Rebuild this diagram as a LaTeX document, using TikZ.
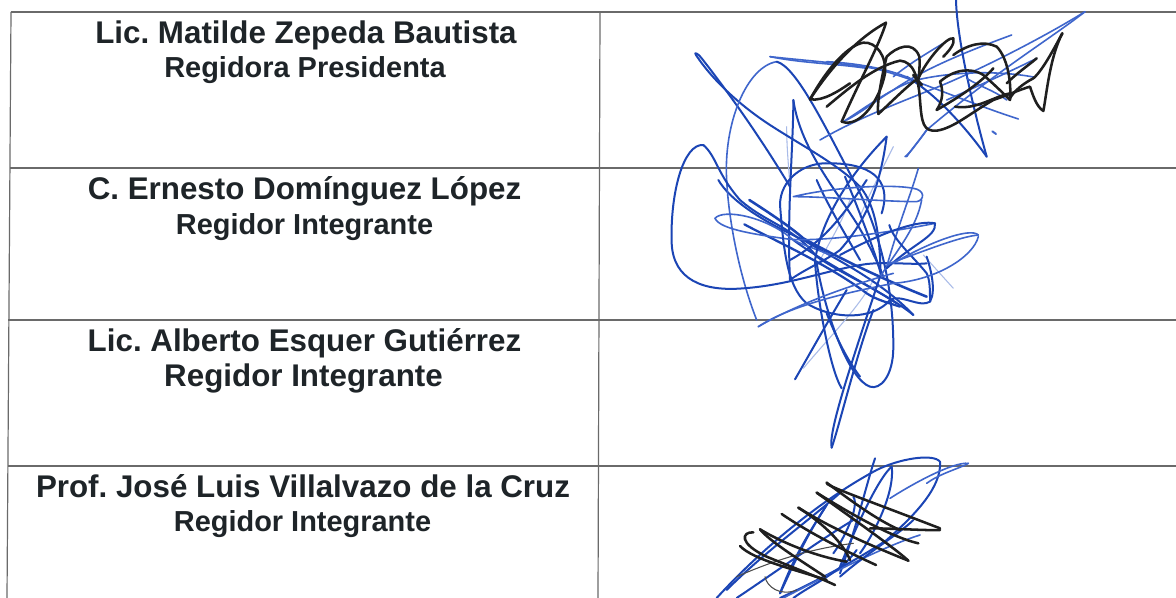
\documentclass[tikz,border=0pt]{standalone}
\usepackage{fontspec}
\setmainfont{Liberation Sans}
\definecolor{inkblue}{HTML}{1B45B5}
\definecolor{midblue}{HTML}{3F66CC}
\definecolor{paleblue}{HTML}{A9BBE8}
\definecolor{rulegray}{HTML}{6A6A6A}
\definecolor{textdark}{HTML}{1E2428}
\tikzset{
  persontext/.style={font=\bfseries\fontsize{23.5}{28}\selectfont\frenchspacing,text=textdark,anchor=center,inner sep=0pt},
  roletext/.style={font=\bfseries\fontsize{21.7}{26}\selectfont\frenchspacing,text=textdark,anchor=center,inner sep=0pt},
  rulel/.style={rulegray,line width=.9pt},
  penblue/.style={inkblue,line width=1.5pt,line cap=round,line join=round},
  thinblue/.style={midblue,line width=1.2pt,line cap=round,line join=round},
  pale/.style={paleblue,line width=.8pt,line cap=round},
  ink/.style={black!88,line width=1.9pt,line cap=round,line join=round},
  thinink/.style={black!70,line width=.8pt,line cap=round,line join=round},
  zoomone/.style={shift={(660,0)},x=0.25pt,y=-0.25pt},
  zoomtwo/.style={shift={(660,180)},x=0.25pt,y=-0.25pt},
  zoomthree/.style={shift={(700,440)},x=0.25pt,y=-0.25pt}
}
\begin{document}
\begin{tikzpicture}[x=0.75pt,y=-0.75pt]
\useasboundingbox (0,0) rectangle (1176,598);
\fill[white] (0,0) rectangle (1176,598);
\draw[rulel] (11,12) -- (1176,12);
\draw[rulel] (10,168) -- (1176,168);
\draw[rulel] (8,320) -- (1176,320);
\draw[rulel] (8,466) -- (1176,466);
\draw[rulel] (11,12) -- (7,598);
\draw[rulel] (600,12) -- (598,598);
\node[persontext] (n1) at (306,35) {Lic. Matilde Zepeda Bautista};
\node[roletext] (r1) at (305,70) {Regidora Presidenta};
\node[persontext] (n2) at (304.5,191) {C. Ernesto Domínguez López};
\node[roletext] (r2) at (304.5,227) {Regidor Integrante};
\node[persontext] (n3) at (304.5,343) {Lic. Alberto Esquer Gutiérrez};
\node[persontext] (r3) at (303.5,378) {Regidor Integrante};
\node[persontext] (n4) at (303,486) {Prof. José Luis Villalvazo de la Cruz};
\node[roletext] (r4) at (302.5,524) {Regidor Integrante};
% signature 2: blue scribble
\begin{scope}[zoomtwo]
\draw[pale] (430,565) .. controls (500,480) and (600,380) .. (640,300);
\draw[pale] (880,325) -- (790,225);
\draw[pale] (570,60) .. controls (540,140) and (500,200) .. (470,260);
\draw[pale] (700,-100) .. controls (660,-20) and (620,60) .. (600,110);
\draw[pale] (380,-160) .. controls (380,-100) and (385,-50) .. (390,20);
\draw[thinblue] (800,-150) .. controls (770,-110) and (750,-80) .. (735,-70);
% long arch
\draw[penblue] (108,-375) .. controls (100,-385) and (115,-380) .. (125,-365) .. controls (200,-270) and (300,-130) .. (390,20);
\draw[penblue] (108,-375) .. controls (150,-310) and (230,-230) .. (330,-165) .. controls (430,-100) and (530,-50) .. (600,20) .. controls (650,80) and (660,180) .. (662,290);
\draw[penblue] (175,0) .. controls (210,60) and (300,120) .. (430,180) .. controls (530,240) and (660,300) .. (760,405);
\draw[thinblue] (350,-355) .. controls (260,-340) and (190,-170) .. (200,0) .. controls (205,110) and (235,280) .. (290,420);
\draw[penblue] (350,-355) .. controls (410,-340) and (500,-150) .. (580,0) .. controls (650,130) and (700,300) .. (700,500) .. controls (700,590) and (660,630) .. (630,620) .. controls (570,600) and (500,420) .. (470,250);
% peak
\draw[penblue] (400,-240) .. controls (400,-100) and (380,100) .. (390,300);
\draw[penblue] (400,-240) .. controls (420,-100) and (520,20) .. (590,130) .. controls (620,180) and (650,240) .. (670,290);
% far-left loop
\draw[penblue] (130,-105) .. controls (70,-110) and (30,40) .. (35,190) .. controls (40,300) and (130,335) .. (250,325) .. controls (390,315) and (500,270) .. (620,252) .. controls (690,245) and (760,255) .. (800,250);
\draw[penblue] (130,-105) .. controls (170,-70) and (170,-20) .. (240,60) .. controls (320,130) and (400,140) .. (470,230) .. controls (560,290) and (680,340) .. (760,405);
% thick strokes through centre
\draw[penblue,line width=1.9pt] (268,60) .. controls (330,100) and (390,140) .. (430,175) .. controls (530,230) and (650,290) .. (800,350);
\draw[penblue,line width=1.7pt] (253,133) .. controls (320,170) and (500,250) .. (620,340) .. controls (650,360) and (690,370) .. (720,380);
\draw[penblue] (400,180) .. controls (480,240) and (600,300) .. (710,370);
% flat loop at left
\draw[thinblue] (165,115) .. controls (190,85) and (320,110) .. (400,180) .. controls (440,200) and (480,210) .. (520,230);
\draw[thinblue] (165,115) .. controls (180,150) and (300,165) .. (390,178) .. controls (500,185) and (700,155) .. (825,130);
% round circle
\draw[penblue] (360,75) .. controls (360,0) and (430,-55) .. (510,-50) .. controls (620,-50) and (700,-10) .. (665,100);
\draw[penblue] (360,75) .. controls (370,200) and (380,320) .. (440,370) .. controls (520,420) and (640,420) .. (690,360) .. controls (720,340) and (780,385) .. (810,365) .. controls (830,330) and (810,260) .. (800,230);
% star peak
\draw[penblue] (680,-130) .. controls (600,-50) and (490,90) .. (465,240) .. controls (470,350) and (510,570) .. (545,625);
\draw[penblue] (680,-130) .. controls (660,20) and (620,120) .. (540,210) .. controls (500,240) and (430,270) .. (390,300);
\draw[penblue] (555,-10) .. controls (600,100) and (640,200) .. (665,290);
\draw[penblue] (470,0) .. controls (500,70) and (560,170) .. (600,240);
\draw[penblue] (620,0) .. controls (560,90) and (500,180) .. (390,240);
% upper flat loop
\draw[thinblue] (400,50) .. controls (500,25) and (680,10) .. (760,25) .. controls (795,30) and (795,60) .. (770,65) .. controls (680,65) and (500,50) .. (400,50);
\draw[thinblue] (785,60) .. controls (770,140) and (720,200) .. (660,290);
\draw[thinblue] (775,-35) .. controls (750,50) and (720,120) .. (680,260);
\draw[penblue] (688,135) .. controls (700,180) and (760,230) .. (800,280) .. controls (810,300) and (810,330) .. (810,365);
\draw[penblue] (825,130) .. controls (780,120) and (680,150) .. (540,225);
\draw[penblue] (825,130) .. controls (830,170) and (760,190) .. (680,265);
% far right
\draw[thinblue] (955,165) .. controls (930,140) and (800,190) .. (700,250);
\draw[thinblue] (955,170) .. controls (940,230) and (830,300) .. (700,310) .. controls (600,330) and (400,370) .. (295,440);
\draw[thinblue] (955,165) .. controls (900,170) and (800,210) .. (690,250);
\draw[thinblue] (295,440) .. controls (380,390) and (520,330) .. (700,280);
% lower tails
\draw[penblue] (405,598) .. controls (450,520) and (500,430) .. (560,330);
\draw[penblue] (515,803) .. controls (505,760) and (560,590) .. (660,290);
\draw[penblue] (515,803) .. controls (540,730) and (590,520) .. (640,390);
\draw[penblue] (500,400) .. controls (540,500) and (570,550) .. (600,590);
\end{scope}
% signature 1: blue
\begin{scope}[zoomone]
\draw[thinblue] (330,170) .. controls (420,180) and (550,190) .. (640,205) .. controls (750,230) and (900,300) .. (1075,357);
\draw[thinblue] (330,170) .. controls (430,190) and (520,190) .. (620,205);
\draw[thinblue] (1275,35) .. controls (1170,100) and (1000,190) .. (860,250) .. controls (740,300) and (600,350) .. (480,420);
\draw[thinblue] (1275,35) .. controls (1180,110) and (1000,220) .. (800,390);
\draw[thinblue] (1055,105) .. controls (960,140) and (800,200) .. (700,270) .. controls (650,300) and (600,340) .. (560,360);
\draw[thinblue] (1125,232) .. controls (1040,215) and (900,210) .. (770,240) .. controls (700,260) and (620,320) .. (550,365);
\draw[penblue] (888,0) .. controls (890,100) and (930,290) .. (980,470);
\draw[penblue] (980,470) .. controls (930,400) and (840,290) .. (740,230);
\draw[thinblue] (500,185) .. controls (600,190) and (700,210) .. (760,240);
\draw[thinblue] (850,130) .. controls (800,160) and (750,190) .. (700,230);
\draw[thinblue] (1130,175) .. controls (1060,210) and (950,260) .. (860,300);
\draw[thinblue] (920,235) .. controls (960,260) and (1000,270) .. (1040,300);
\draw[thinblue] (800,390) .. controls (780,420) and (760,440) .. (740,470);
\draw[thinblue,line width=1.5pt] (997,394) -- (1008,402);
% signature 1: black
\draw[ink] (450,298) .. controls (520,190) and (600,110) .. (678,68);
\draw[ink] (678,68) .. controls (660,130) and (600,240) .. (545,365);
\draw[ink] (545,365) .. controls (600,385) and (660,300) .. (675,220) .. controls (680,170) and (650,125) .. (610,128) .. controls (570,135) and (510,190) .. (450,298);
\draw[ink] (450,298) .. controls (490,305) and (540,270) .. (570,250);
\draw[ink] (500,320) .. controls (560,270) and (640,200) .. (720,182) .. controls (760,185) and (775,230) .. (780,300) .. controls (785,370) and (790,395) .. (830,392) .. controls (880,385) and (930,340) .. (1000,300) .. controls (1030,290) and (1090,265) .. (1110,260) .. controls (1120,290) and (1130,320) .. (1150,333) .. controls (1160,280) and (1170,170) .. (1207,100);
\draw[ink] (1207,100) .. controls (1190,130) and (1150,210) .. (1120,235) .. controls (1090,250) and (1060,275) .. (1050,295);
\draw[ink] (655,342) .. controls (650,320) and (660,250) .. (680,170) .. controls (710,140) and (760,120) .. (778,170) .. controls (780,190) and (778,215) .. (775,240);
\draw[ink] (655,342) .. controls (700,300) and (750,250) .. (775,235) .. controls (800,180) and (860,110) .. (880,115) .. controls (885,130) and (870,150) .. (850,170);
\draw[ink] (830,330) .. controls (850,300) and (850,270) .. (840,245) .. controls (880,210) and (930,200) .. (970,225) .. controls (1010,260) and (1040,290) .. (1050,300) .. controls (1055,240) and (1040,170) .. (1010,140) .. controls (970,120) and (920,135) .. (880,165);
\draw[ink] (885,320) .. controls (950,330) and (1000,290) .. (1050,280);
\draw[ink] (830,330) .. controls (900,290) and (960,250) .. (1000,205);
\draw[ink] (1130,175) .. controls (1100,200) and (1070,220) .. (1040,250);
\draw[ink,line width=2.2pt] (760,225) -- (785,255);
\end{scope}
% signature 3: blue
\begin{scope}[zoomthree]
\draw[penblue] (50,474) .. controls (200,310) and (380,170) .. (530,90) .. controls (600,55) and (700,40) .. (720,65) .. controls (725,140) and (650,220) .. (560,300) .. controls (500,340) and (400,400) .. (240,474);
\draw[penblue] (525,55) .. controls (500,130) and (470,260) .. (420,400);
\draw[penblue] (575,80) .. controls (540,110) and (480,230) .. (420,380);
\draw[penblue] (575,80) .. controls (585,150) and (530,270) .. (480,340);
\draw[thinblue] (805,70) .. controls (760,65) and (640,130) .. (570,175);
\draw[thinblue] (805,70) .. controls (780,85) and (720,100) .. (680,130);
\draw[penblue] (460,170) .. controls (480,200) and (430,300) .. (400,340);
\draw[thinblue] (660,285) .. controls (580,310) and (450,370) .. (250,474);
\draw[penblue] (380,195) .. controls (340,260) and (290,330) .. (240,460);
\draw[penblue] (240,460) .. controls (260,420) and (310,300) .. (380,195);
\draw[penblue] (110,474) .. controls (250,380) and (360,300) .. (460,240);
\draw[penblue] (430,150) .. controls (330,240) and (200,330) .. (80,450);
\draw[penblue] (280,474) .. controls (340,430) and (420,400) .. (470,330);
\draw[penblue] (640,240) .. controls (600,280) and (500,340) .. (420,410);
% signature 3: black
\draw[thinink] (195,410) .. controls (200,440) and (240,470) .. (290,450);
\draw[thinink] (110,410) .. controls (180,380) and (300,330) .. (460,310);
\draw[ink] (160,277) .. controls (125,275) and (115,310) .. (200,350) .. controls (260,375) and (340,405) .. (405,435);
\draw[ink] (120,318) .. controls (160,360) and (290,390) .. (380,420);
\draw[ink] (180,268) .. controls (250,310) and (350,350) .. (440,365);
\draw[ink] (180,268) .. controls (210,305) and (300,360) .. (375,410);
\draw[ink] (245,222) .. controls (330,280) and (430,330) .. (528,375);
\draw[ink] (295,203) .. controls (370,250) and (430,310) .. (450,360);
\draw[ink] (295,203) .. controls (370,250) and (470,300) .. (625,362);
\draw[ink] (625,362) .. controls (590,330) and (520,280) .. (350,158);
\draw[ink] (350,158) .. controls (450,220) and (570,290) .. (655,310);
\draw[ink] (380,128) .. controls (370,135) and (500,180) .. (720,265);
\draw[ink] (380,128) .. controls (450,180) and (530,240) .. (600,270);
\draw[ink] (720,270) .. controls (680,272) and (580,265) .. (510,265);
\end{scope}
\end{tikzpicture}
\end{document}
